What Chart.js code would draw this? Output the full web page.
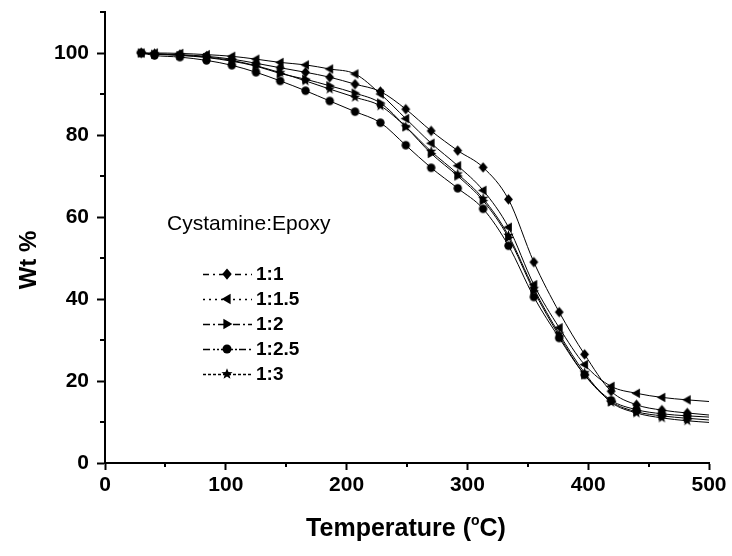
<!DOCTYPE html>
<html>
<head>
<meta charset="utf-8">
<script src="https://cdn.jsdelivr.net/npm/chart.js@4.4.1/dist/chart.umd.min.js"></script>
<style>
  html, body { margin: 0; padding: 0; background: #fff; }
  #wrap { width: 732px; height: 556px; }
</style>
</head>
<body>
<div id="wrap"><canvas id="tgaChart" width="732" height="556"></canvas></div>
<script>
// TGA curves: residual weight (%) vs temperature (°C)
const temps   = [30, 41, 62, 84, 105, 125, 145, 166, 186, 207, 228, 249, 270, 292, 313, 334, 355, 376, 397, 419, 440, 461, 482, 500];
const wt_1_1  = [100, 99.8, 99.6, 99.2, 98.5, 97.5, 96.4, 95.3, 94.1, 92.4, 90.6, 86.3, 81.0, 76.2, 72.1, 64.3, 49.0, 36.8, 26.5, 17.5, 14.2, 12.9, 12.2, 11.7];
const wt_1_15 = [100, 100, 99.9, 99.6, 99.2, 98.5, 97.7, 97.1, 96.1, 94.9, 90.0, 84.0, 78.0, 72.5, 66.5, 57.5, 43.5, 33.0, 24.0, 18.7, 17.0, 16.0, 15.4, 15.0];
const wt_1_2  = [100, 99.7, 99.4, 98.9, 98.0, 96.8, 95.0, 93.6, 92.0, 90.2, 87.8, 82.0, 75.5, 70.0, 64.0, 55.0, 42.0, 31.0, 21.5, 15.0, 12.5, 11.5, 10.9, 10.5];
const wt_1_25 = [100, 99.4, 99.0, 98.2, 97.0, 95.3, 93.2, 90.8, 88.3, 85.7, 83.0, 77.5, 72.0, 67.0, 62.0, 53.0, 40.5, 30.5, 21.5, 15.3, 13.0, 12.0, 11.5, 11.2];
const wt_1_3  = [100, 99.8, 99.5, 99.0, 98.2, 96.9, 95.2, 93.2, 91.2, 89.2, 87.1, 82.0, 76.0, 70.5, 64.5, 55.5, 42.5, 31.5, 22.0, 14.8, 12.2, 11.0, 10.3, 9.9];

const ratioLabels = ['1:1', '1:1.5', '1:2', '1:2.5', '1:3'];
const markerKinds = ['diamond', 'tleft', 'tright', 'circle', 'star'];
const legendDashes = [[6, 4, 2, 4], [2, 4], [7, 3, 2, 3], [7, 3, 2, 2, 2, 2], [3, 2]];
const xTickValues = [0, 50, 100, 150, 200, 250, 300, 350, 400, 450, 500];
const yTickValues = [0, 10, 20, 30, 40, 50, 60, 70, 80, 90, 100, 110];

const FONT = "'Liberation Sans', Arial, sans-serif";

// filled marker shapes, used both on the curves and in the legend
function drawMarker(ctx, kind, x, y, r) {
    ctx.save();
    ctx.fillStyle = '#000';
    ctx.beginPath();
    if (kind === 'diamond') {
        ctx.moveTo(x, y - r * 1.25);
        ctx.lineTo(x + r * 1.05, y);
        ctx.lineTo(x, y + r * 1.25);
        ctx.lineTo(x - r * 1.05, y);
    } else if (kind === 'tleft') {
        ctx.moveTo(x - r * 1.2, y);
        ctx.lineTo(x + r * 0.8, y - r * 1.15);
        ctx.lineTo(x + r * 0.8, y + r * 1.15);
    } else if (kind === 'tright') {
        ctx.moveTo(x + r * 1.2, y);
        ctx.lineTo(x - r * 0.8, y - r * 1.15);
        ctx.lineTo(x - r * 0.8, y + r * 1.15);
    } else if (kind === 'circle') {
        ctx.arc(x, y, r, 0, Math.PI * 2);
    } else if (kind === 'star') {
        for (let i = 0; i < 10; i++) {
            const a = -Math.PI / 2 + i * Math.PI / 5;
            const rr = i % 2 === 0 ? r * 1.3 : r * 0.55;
            const px = x + rr * Math.cos(a), py = y + rr * Math.sin(a);
            if (i === 0) ctx.moveTo(px, py); else ctx.lineTo(px, py);
        }
    }
    ctx.closePath();
    ctx.fill();
    ctx.restore();
}

function markerImage(kind, r) {
    const size = Math.ceil(r * 3) + 2;
    const c = document.createElement('canvas');
    c.width = size; c.height = size;
    drawMarker(c.getContext('2d'), kind, size / 2, size / 2, r);
    return c;
}

const series = [wt_1_1, wt_1_15, wt_1_2, wt_1_25, wt_1_3];

const datasets = series.map((vals, i) => ({
    label: ratioLabels[i],
    data: temps.map((t, j) => ({ x: t, y: vals[j] })),
    borderColor: '#000',
    backgroundColor: '#000',
    borderWidth: 1,
    cubicInterpolationMode: 'monotone',
    pointStyle: markerImage(markerKinds[i], 4.2),
    // the last sample only closes the curve at 500 °C, no symbol there
    pointRadius: ctx => ctx.dataIndex === temps.length - 1 ? 0 : 4
}));

// minor ticks, axis titles and the in-plot legend
const decorPlugin = {
    id: 'tgaDecor',
    afterDraw(chart) {
        const ctx = chart.ctx;
        const xs = chart.scales.x, ys = chart.scales.y;
        const area = chart.chartArea;

        ctx.save();
        ctx.strokeStyle = '#000';
        ctx.lineWidth = 2;
        xTickValues.filter(v => v % 100 !== 0).forEach(v => {
            const px = Math.round(xs.getPixelForValue(v));
            ctx.beginPath();
            ctx.moveTo(px, area.bottom);
            ctx.lineTo(px, area.bottom + 4);
            ctx.stroke();
        });
        yTickValues.filter(v => v % 20 !== 0).forEach(v => {
            const py = Math.round(ys.getPixelForValue(v));
            ctx.beginPath();
            ctx.moveTo(area.left, py);
            ctx.lineTo(area.left - 5, py);
            ctx.stroke();
        });

        // y title
        ctx.fillStyle = '#000';
        ctx.font = 'bold 24px ' + FONT;
        ctx.textAlign = 'center';
        ctx.textBaseline = 'middle';
        ctx.save();
        ctx.translate(29, 260);
        ctx.rotate(-Math.PI / 2);
        ctx.fillText('Wt %', 0, 0);
        ctx.restore();

        // x title with superscript degree
        const a = 'Temperature (', b = 'o', c = 'C)';
        ctx.font = 'bold 25px ' + FONT;
        const wa = ctx.measureText(a).width, wc = ctx.measureText(c).width;
        ctx.font = 'bold 14px ' + FONT;
        const wb = ctx.measureText(b).width;
        let x0 = 406 - (wa + wb + wc) / 2;
        const yT = 528;
        ctx.textAlign = 'left';
        ctx.textBaseline = 'alphabetic';
        ctx.font = 'bold 25px ' + FONT;
        ctx.fillText(a, x0, yT + 8);
        ctx.font = 'bold 14px ' + FONT;
        ctx.fillText(b, x0 + wa, yT - 3);
        ctx.font = 'bold 25px ' + FONT;
        ctx.fillText(c, x0 + wa + wb, yT + 8);

        // legend
        ctx.font = '21px ' + FONT;
        ctx.textBaseline = 'middle';
        ctx.fillText('Cystamine:Epoxy', 167, 224);
        ratioLabels.forEach((lab, i) => {
            const y = 274 + i * 25;
            ctx.save();
            ctx.lineWidth = 1.5;
            ctx.setLineDash(legendDashes[i]);
            ctx.beginPath();
            ctx.moveTo(203, y + 0.5);
            ctx.lineTo(252, y + 0.5);
            ctx.stroke();
            ctx.restore();
            drawMarker(ctx, markerKinds[i], 227, y, 4.5);
            ctx.font = 'bold 19px ' + FONT;
            ctx.fillText(lab, 256, y + 1);
        });
        ctx.restore();
    }
};

new Chart(document.getElementById('tgaChart'), {
    type: 'line',
    data: { datasets },
    options: {
        responsive: false,
        devicePixelRatio: 1,
        animation: false,
        layout: { padding: { top: 12, right: 23, left: 0, bottom: 0 } },
        plugins: { legend: { display: false }, tooltip: { enabled: false } },
        scales: {
            x: {
                type: 'linear',
                min: 0,
                max: 500,
                afterBuildTicks: s => { s.ticks = xTickValues.map(v => ({ value: v })); },
                afterFit: s => { s.height = 93; s.paddingLeft = 0; s.paddingRight = 0; },
                grid: {
                    drawOnChartArea: false,
                    tickLength: 7,
                    tickWidth: 2,
                    tickColor: c => (c.tick && c.tick.value % 100 === 0) ? '#000' : 'rgba(0,0,0,0)'
                },
                border: { display: true, color: '#000', width: 2 },
                ticks: {
                    autoSkip: false,
                    maxRotation: 0,
                    padding: 3,
                    color: '#000',
                    font: { family: FONT, size: 21, weight: 'bold' },
                    callback: v => v % 100 === 0 ? v : ''
                }
            },
            y: {
                min: 0,
                max: 110,
                afterBuildTicks: s => { s.ticks = yTickValues.map(v => ({ value: v })); },
                afterFit: s => { s.width = 105; s.paddingTop = 0; s.paddingBottom = 0; },
                grid: {
                    drawOnChartArea: false,
                    tickLength: 8,
                    tickWidth: 2,
                    tickColor: c => (c.tick && c.tick.value % 20 === 0) ? '#000' : 'rgba(0,0,0,0)'
                },
                border: { display: true, color: '#000', width: 2 },
                ticks: {
                    autoSkip: false,
                    padding: 8,
                    color: '#000',
                    font: { family: FONT, size: 21, weight: 'bold' },
                    callback: v => v % 20 === 0 ? v : ''
                }
            }
        }
    },
    plugins: [decorPlugin]
});
</script>
</body>
</html>
